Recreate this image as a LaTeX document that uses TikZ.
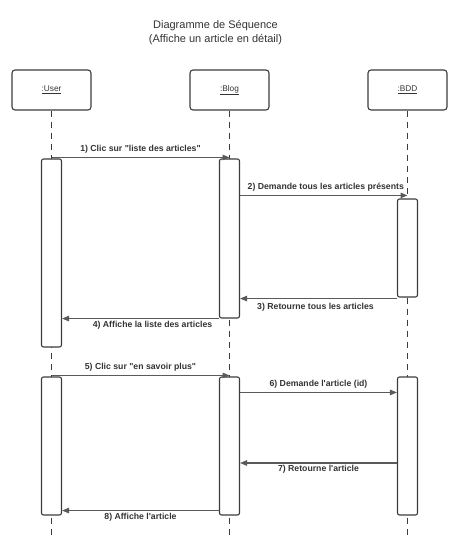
\documentclass[tikz,border=0pt]{standalone}
\usepackage{fontspec}
\setmainfont{Liberation Sans}
\newfontfamily\plainfont{Liberation Sans}
\usetikzlibrary{arrows.meta}
\definecolor{stroke}{HTML}{3C3C3C}
\definecolor{arrowc}{HTML}{5A5A5A}
\definecolor{txt}{HTML}{333333}
\begin{document}
\begin{tikzpicture}[x=1pt,y=-1pt,
  header/.style={draw=stroke, line width=1.1pt, rounded corners=3pt, fill=white, minimum width=79pt, minimum height=40pt, inner sep=0pt, font=\plainfont\fontsize{8.3}{9}\selectfont, text=txt},
  actbox/.style={draw=stroke, line width=1.1pt, rounded corners=2pt, fill=white, minimum width=20pt, inner sep=0pt},
  lifeline/.style={draw=stroke, line width=0.8pt, dash pattern=on 6pt off 5pt},
  msg/.style={draw=arrowc, line width=1.1pt, -{Triangle[length=7pt,width=5.5pt]}},
  lbl/.style={font=\plainfont\bfseries\fontsize{8.7}{10}\selectfont, text=txt, inner sep=0pt}
]
\useasboundingbox (0,0) rectangle (450,555);
% title
\node[align=center, font=\plainfont\fontsize{11}{14}\selectfont, text=txt] (title) at (215.5,33) {Diagramme de Séquence\\(Affiche un article en détail)};
% headers
\node[header] (user) at (51.5,90) {\underline{:User}};
\node[header] (blog) at (229.5,90) {\underline{:Blog}};
\node[header] (bdd) at (407.5,90) {\underline{:BDD}};
% lifeline ends
\coordinate (ue) at (51.5,535);
\coordinate (be) at (229.5,535);
\coordinate (de) at (407.5,535);
\draw[lifeline] (user.south) -- (ue);
\draw[lifeline] (blog.south) -- (be);
\draw[lifeline] (bdd.south) -- (de);
% activation boxes
\node[actbox, minimum height=188pt] (u1) at (51.5,253) {};
\node[actbox, minimum height=159pt] (b1) at (229.5,238.5) {};
\node[actbox, minimum height=98pt] (d1) at (407.5,248) {};
\node[actbox, minimum height=138pt] (u2) at (51.5,446) {};
\node[actbox, minimum height=138pt] (b2) at (229.5,446) {};
\node[actbox, minimum height=138pt] (d2) at (407.5,446) {};
% messages
\draw[msg] ([yshift=1pt]u1.north) -- ([yshift=1pt]b1.north)
  node[lbl, midway, yshift=8pt] {1) Clic sur "liste des articles"};
\draw[msg] ([yshift=3pt]b1.east |- d1.north) -- ([yshift=3pt]d1.north)
  node[lbl, midway, yshift=8pt, xshift=2pt] {2) Demande tous les articles présents};
\draw[msg] ([yshift=-1pt]d1.south west) -- ([yshift=-1pt]b1.east |- d1.south)
  node[lbl, midway, yshift=-9pt, xshift=-3pt] {3) Retourne tous les articles};
\draw[msg] (b1.south west) -- (u1.east |- b1.south)
  node[lbl, midway, yshift=-6.5pt, xshift=12pt] {4) Affiche la liste des articles};
\draw[msg] ([yshift=1pt]u2.north) -- ([yshift=1pt]b2.north)
  node[lbl, midway, yshift=8pt] {5) Clic sur "en savoir plus"};
\draw[msg] ([yshift=-16pt]b2.north east) -- ([yshift=-16pt]d2.north west)
  node[lbl, midway, yshift=8pt] {6) Demande l'article (id)};
\draw[msg] ([yshift=-17pt]d2.west) -- ([yshift=-17pt]b2.east)
  node[lbl, midway, yshift=-6.5pt] {7) Retourne l'article};
\draw[msg] ([yshift=5pt]b2.south west) -- ([yshift=5pt]u2.south east)
  node[lbl, midway, yshift=-6.5pt] {8) Affiche l'article};
\end{tikzpicture}
\end{document}
